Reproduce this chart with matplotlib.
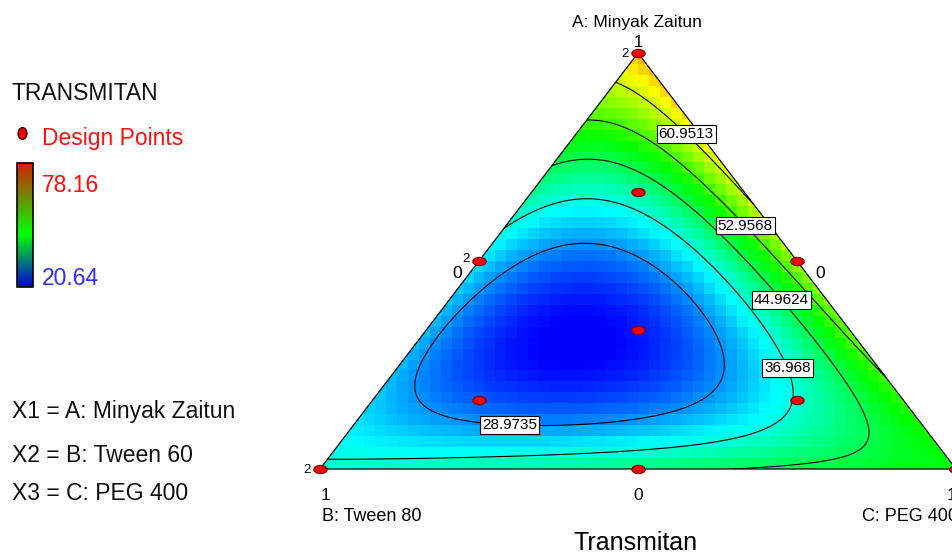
import numpy as np
import matplotlib
matplotlib.use('Agg')
import matplotlib.pyplot as plt
from matplotlib import font_manager
from matplotlib.colors import LinearSegmentedColormap, Normalize
from matplotlib.colorbar import ColorbarBase
from matplotlib.patches import Polygon
from matplotlib.path import Path
from matplotlib.transforms import Affine2D

W, H = 952, 554

# response and components
resp_name = 'TRANSMITAN'
plot_title = 'Transmitan'
comp_labels = ['A: Minyak Zaitun', 'B: Tween 80', 'C: PEG 400']
factor_lines = ['X1 = A: Minyak Zaitun', 'X2 = B: Tween 60', 'X3 = C: PEG 400']

# special cubic mixture model, Scheffe coefficients
coef_lin = [68.0, 38.0, 48.7]   # A, B, C
coef_ab = -75.5
coef_ac = 0.0
coef_bc = 0.0
coef_abc = -572.0

# design points (component fractions) and replicate counts
pts_a = [1, 0, 0, 1/2, 1/2, 0, 2/3, 1/6, 1/6, 1/3]
pts_b = [0, 1, 0, 1/2, 0, 1/2, 1/6, 2/3, 1/6, 1/3]
pts_c = [0, 0, 1, 0, 1/2, 1/2, 1/6, 1/6, 2/3, 1/3]
pts_rep = [2, 2, 2, 2, 1, 1, 1, 1, 1, 1]

contour_levels = [28.9735, 36.968, 44.9624, 52.9568, 60.9513]
resp_min, resp_max = 20.64, 78.16


def model(a, b, c):
    return (coef_lin[0] * a + coef_lin[1] * b + coef_lin[2] * c
            + coef_ab * a * b + coef_ac * a * c + coef_bc * b * c
            + coef_abc * a * b * c)


def to_xy(a, b, c):
    return np.asarray(c) - np.asarray(b), np.asarray(a)


def from_xy(x, y):
    return y, (1 - y - x) / 2, (1 - y + x) / 2


def fxy(px, py):
    # pixel position -> figure fraction
    return px / W, 1 - py / H


installed = {f.name for f in font_manager.fontManager.ttflist}
if 'Liberation Sans Narrow' in installed:
    narrow, nsize = 'Liberation Sans Narrow', 20
else:
    narrow, nsize = 'Liberation Sans', 16.5
plt.rcParams['font.family'] = ['Liberation Sans', 'DejaVu Sans']

surf_cmap = LinearSegmentedColormap.from_list(
    'de', ['#0000ff', '#00ffff', '#00ff00', '#ffff00', '#ff0000'])
key_cmap = LinearSegmentedColormap.from_list(
    'key', [(0, '#0000e0'), (0.43, '#00ff00'), (1, '#d42000')])
norm = Normalize(resp_min, resp_max)

fig = plt.figure(figsize=(W / 100, H / 100), dpi=100)
ax = fig.add_axes([0, 0, 1, 1])
# apex at (638, 53) px, B at (320, 469) px, C at (956, 469) px
ax.set_xlim(-638 / 318, (W - 638) / 318)
ax.set_ylim((469 - H) / 416, 469 / 416)
ax.axis('off')

verts = np.column_stack(to_xy([1, 0, 0], [0, 1, 0], [0, 0, 1]))
clip = Polygon(verts, closed=True, transform=ax.transData)

# blocky shaded surface
xe = np.linspace(-1, 1, 59)
ye = np.linspace(0, 1, 39)
xc, yc = np.meshgrid((xe[:-1] + xe[1:]) / 2, (ye[:-1] + ye[1:]) / 2)
zc = model(*from_xy(xc, yc))
mesh = ax.pcolormesh(xe, ye, zc, cmap=surf_cmap, norm=norm, shading='flat',
                     zorder=1)
mesh.set_clip_path(clip)

# contour lines
xf, yf = np.meshgrid(np.linspace(-1, 1, 500), np.linspace(0, 1, 400))
zf = model(*from_xy(xf, yf))
cs = ax.contour(xf, yf, zf, levels=contour_levels, colors='black',
                linewidths=0.8, zorder=2)
cs.set_clip_path(clip)
label_pos = [(0.170, 0.820), (0.352, 0.596), (0.469, 0.418),
             (0.462, 0.240), (-0.402, 0.125)]
lbls = ax.clabel(cs, fmt=lambda v: f'{v:g}', fontsize=11, inline=False,
                 manual=label_pos)
for t in lbls:
    t.set_rotation(0)
    t.set_zorder(4)
    t.set_bbox(dict(boxstyle='square,pad=0.12', fc='white', ec='black', lw=0.8))

ax.add_patch(Polygon(verts, closed=True, fill=False, ec='black', lw=0.9,
                     zorder=3, clip_on=False))

# design points
ell = Path.unit_circle().transformed(Affine2D().scale(1, 0.62))
dx, dy = to_xy(pts_a, pts_b, pts_c)
ax.plot(dx, dy, ls='none', marker=ell, ms=9.6, mfc='#f00000', mec='#8a0000',
        mew=0.8, clip_on=False, zorder=5)
for x, y, r in zip(dx, dy, pts_rep):
    if r > 1:
        off = (-9, -1) if 0 < y < 1 else (-9, -4)
        ax.annotate(str(r), (x, y), xytext=off, textcoords='offset pixels',
                    ha='right', va='baseline', fontsize=9.5, zorder=6)

# axis texts round the triangle
fig.text(*fxy(637, 27), comp_labels[0], ha='center', va='baseline', fontsize=12.5)
fig.text(*fxy(638, 47), '1', ha='center', va='baseline', fontsize=12)
fig.text(*fxy(457, 278), '0', ha='center', va='baseline', fontsize=12.5)
fig.text(*fxy(820, 278), '0', ha='center', va='baseline', fontsize=12.5)
fig.text(*fxy(325, 500), '1', ha='center', va='baseline', fontsize=12.5)
fig.text(*fxy(638, 500), '0', ha='center', va='baseline', fontsize=12.5)
fig.text(*fxy(951, 500), '1', ha='center', va='baseline', fontsize=12.5)
fig.text(*fxy(322, 521), comp_labels[1], ha='left', va='baseline', fontsize=13)
fig.text(*fxy(862, 521), comp_labels[2], ha='left', va='baseline', fontsize=13)
fig.text(*fxy(636, 550), plot_title, ha='center', va='baseline', fontsize=18)

# legend block on the left
fig.text(*fxy(12, 100), resp_name, ha='left', va='baseline',
         family=narrow, fontsize=nsize, color='#101010')
key_ell = Path.unit_circle().transformed(Affine2D().scale(0.75, 1))
ax.plot([fxy(22, 133)[0]], [fxy(22, 133)[1]], transform=fig.transFigure,
        marker=key_ell, ms=8.5, mfc='#f00000', mec='#300000', mew=1.0,
        ls='none', clip_on=False)
fig.text(*fxy(42, 145), 'Design Points', ha='left', va='baseline',
         family=narrow, fontsize=nsize, color='#ff1010')
cax = fig.add_axes([17 / W, 1 - 287 / H, 16 / W, 124 / H])
cb = ColorbarBase(cax, cmap=key_cmap, norm=norm, orientation='vertical')
cb.set_ticks([])
cb.outline.set_linewidth(1.2)
fig.text(*fxy(42, 192), f'{resp_max:.2f}', ha='left', va='baseline',
         family=narrow, fontsize=nsize, color='#ff1010')
fig.text(*fxy(42, 285), f'{resp_min:.2f}', ha='left', va='baseline',
         family=narrow, fontsize=nsize, color='#3030ff')
for line, base in zip(factor_lines, [418, 462, 500]):
    fig.text(*fxy(12, base), line, ha='left', va='baseline',
             family=narrow, fontsize=nsize, color='#101010')

fig.savefig('out.png', dpi=100, facecolor='white')
